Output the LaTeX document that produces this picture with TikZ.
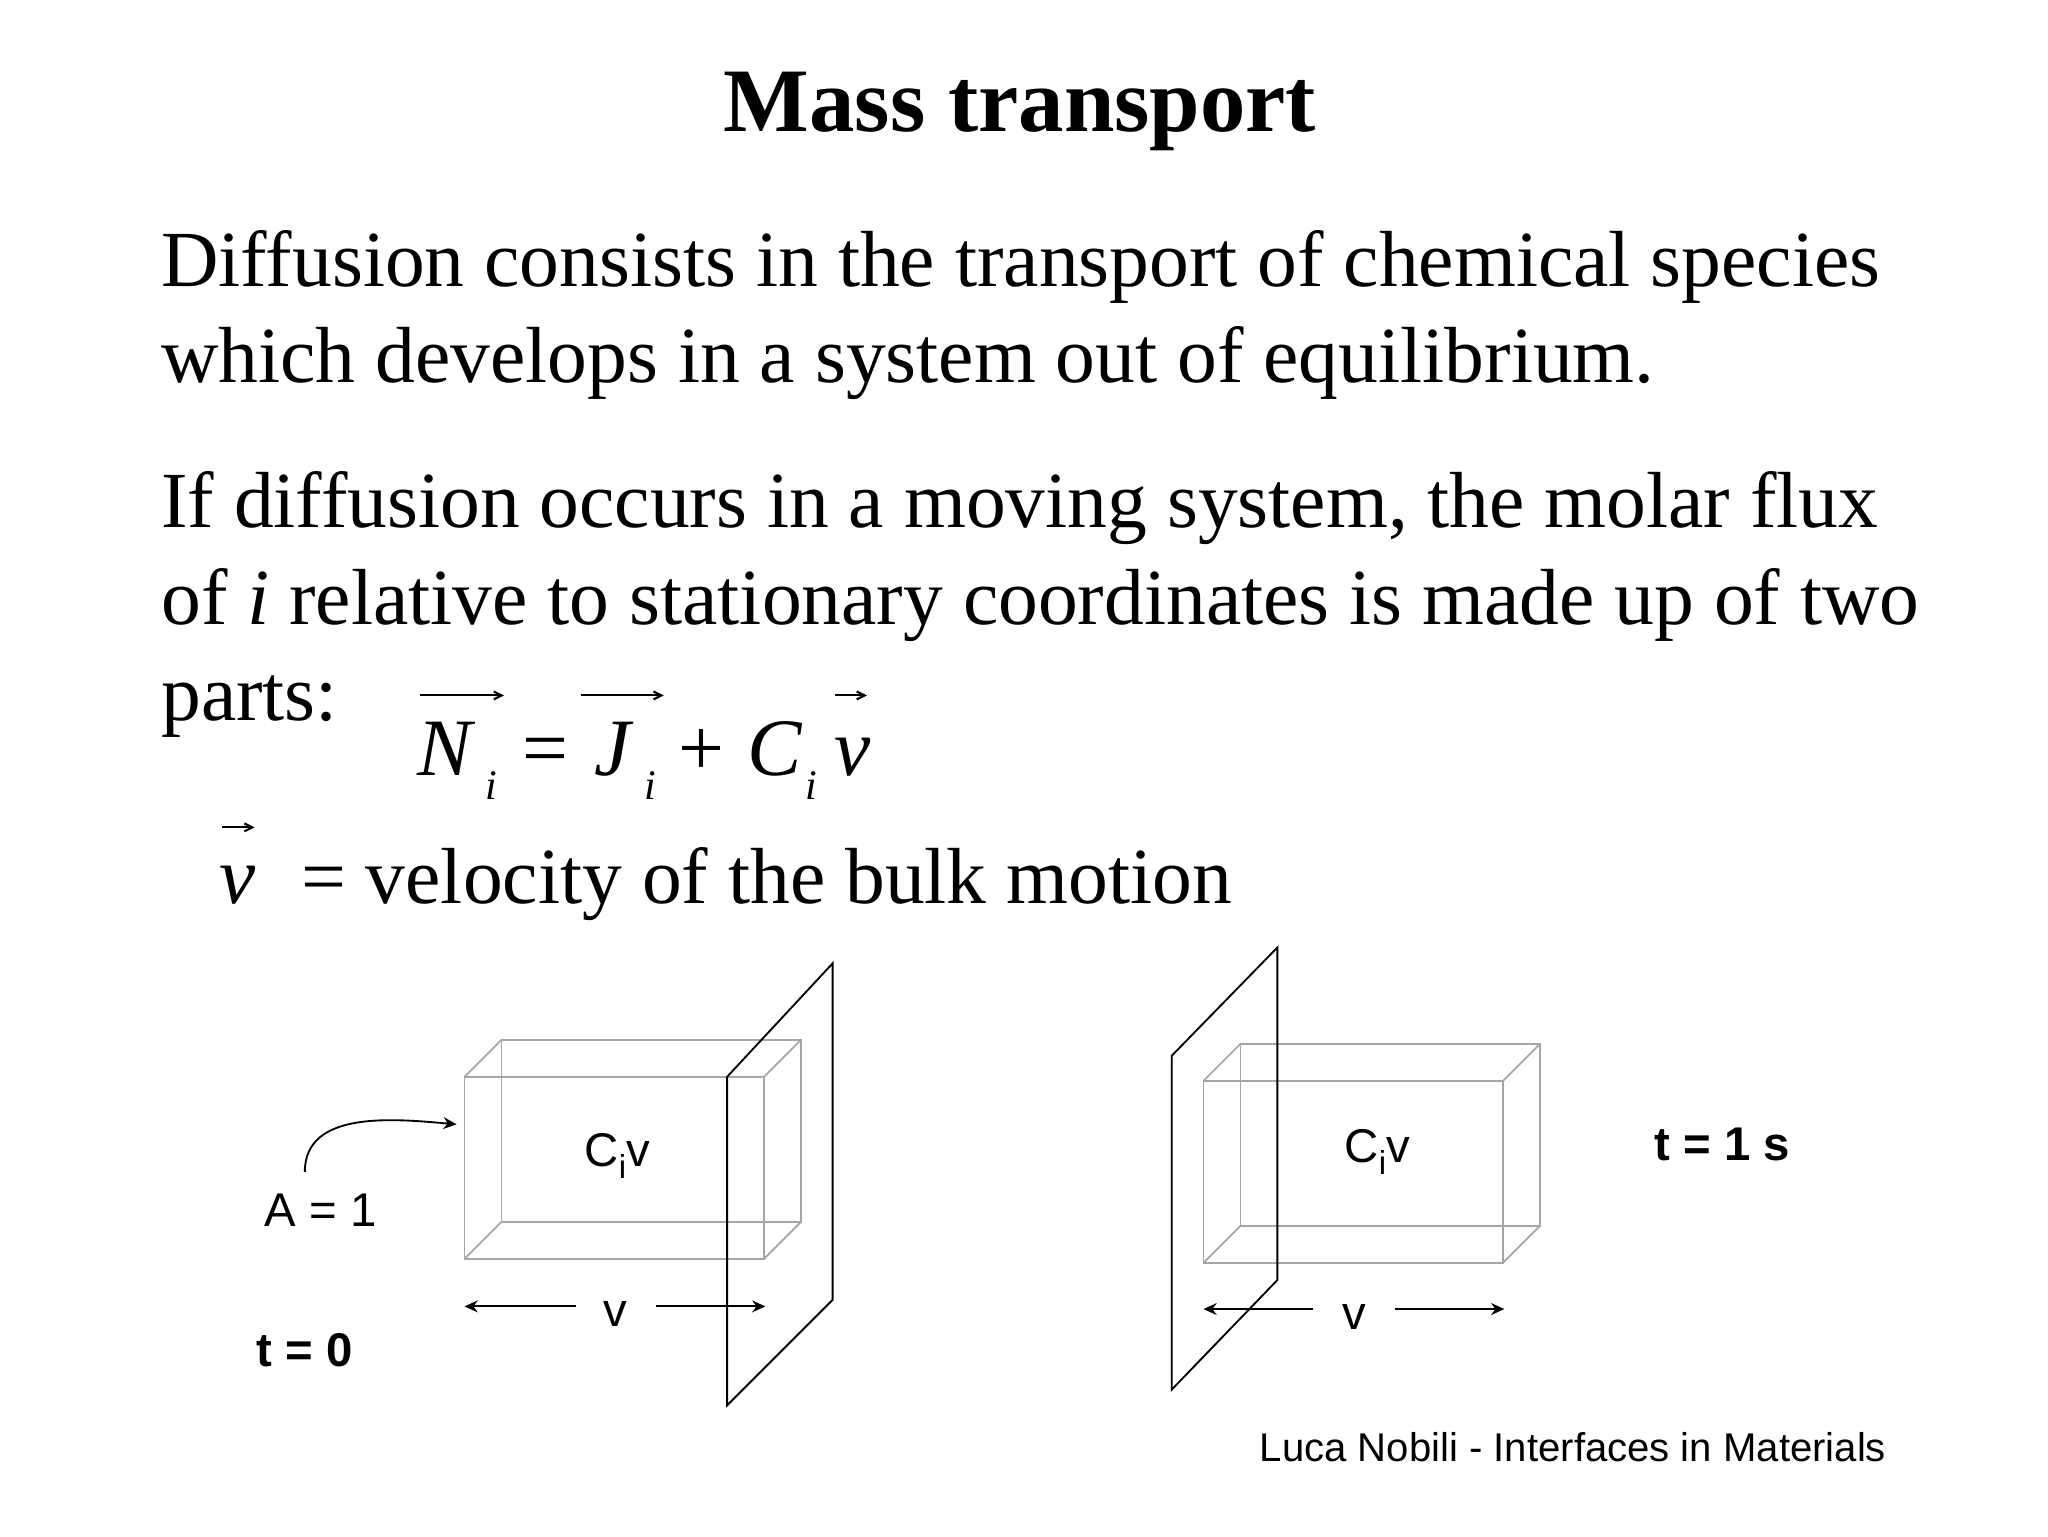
\documentclass[tikz,border=0pt]{standalone}
\usepackage{fontspec}
\setmainfont{Liberation Serif}
\setsansfont{Liberation Sans}
\usetikzlibrary{arrows.meta}
\begin{document}
\begin{tikzpicture}[x=1bp,y=-1bp,
  body/.style={anchor=base west,inner sep=0,font=\fontsize{60.5}{64}\selectfont},
  eqb/.style={anchor=base west,inner sep=0,font=\fontsize{62}{64}\selectfont},
  sub/.style={anchor=base west,inner sep=0,font=\fontsize{32}{34}\selectfont\itshape},
  vec/.style={-{Straight Barb[length=6bp,width=6bp]},line width=1.6bp},
  lab/.style={inner sep=0,font=\sffamily\fontsize{36}{40}\selectfont},
  boxl/.style={draw=black!35,line width=1.3bp},
  plane/.style={draw=black,line width=1.4bp},
  arr/.style={-{Stealth[length=10bp,width=9bp]},line width=1.6bp}]
\useasboundingbox (0,0) rectangle (1552,1164);
\node[anchor=base,inner sep=0,font=\bfseries\fontsize{69}{70}\selectfont] (title) at (773,100) {Mass transport};
\node[body] (l1) at (122,217) {Diffusion consists in the transport of chemical species};
\node[body] (l2) at (122,290) {which develops in a system out of equilibrium.};
\node[body] (l3) at (122,400) {If diffusion occurs in a moving system, the molar flux};
\node[body] (l4) at (122,473) {of \textit{i} relative to stationary coordinates is made up of two};
\node[body] (l5) at (122,546) {parts:};
% equation
\node[eqb] (eN) at (316,588) {\textit{N}};
\node[sub] (eNi) at (368,606) {i};
\node[eqb] (eeq) at (396,588) {=};
\node[eqb] (eJ) at (450,588) {\textit{J}};
\node[sub] (eJi) at (488,606) {i};
\node[eqb] (eplus) at (514,588) {+};
\node[eqb] (eC) at (566,588) {\textit{C}};
\node[sub] (eCi) at (610,606) {i};
\node[eqb] (ev) at (632,588) {\textit{v}};
\coordinate (aN1) at (318,527); \coordinate (aN2) at (382,527);
\coordinate (aJ1) at (440,527); \coordinate (aJ2) at (503,527);
\coordinate (av1) at (633,527); \coordinate (av2) at (657,527);
\draw[vec] (aN1) -- (aN2);
\draw[vec] (aJ1) -- (aJ2);
\draw[vec] (av1) -- (av2);
\node[eqb] (vv) at (166,685) {\textit{v}};
\coordinate (aw1) at (168,627); \coordinate (aw2) at (193,627);
\draw[vec] (aw1) -- (aw2);
\node[body] (vdef) at (228,685) {= velocity of the bulk motion};
% left box
\draw[boxl] (380,788) rectangle (607,926);
\draw[boxl] (352,816) -- (380,788) (579,816) -- (607,788) (352,954) -- (380,926) (579,954) -- (607,926);
\draw[boxl] (352,816) rectangle (579,954);
\draw[plane] (551,816) -- (631,730) -- (631,985) -- (551,1065) -- cycle;
\node[lab] (c1) at (468,876) {C\textsubscript{i}v};
\node[lab] (a1) at (243,917) {A = 1};
\coordinate (a1s) at (231,888);
\coordinate (a1e) at (346,852);
\draw[arr,line width=1.4bp] (a1s) to[out=90,in=175] (a1e);
\node[lab] (v1) at (466,996) {v};
\coordinate (v1l) at (352,990); \coordinate (v1r) at (580,990);
\draw[arr] (v1.west) ++(-20,-6) coordinate (v1a) -- (v1l);
\draw[arr] (v1.east) ++(22,-6) coordinate (v1b) -- (v1r);
\node[lab,font=\sffamily\bfseries\fontsize{36}{40}\selectfont] (t0) at (231,1023) {t = 0};
% right box
\draw[boxl] (940,791) rectangle (1167,929);
\draw[boxl] (912,819) -- (940,791) (1139,819) -- (1167,791) (912,957) -- (940,929) (1139,957) -- (1167,929);
\draw[boxl] (912,819) rectangle (1139,957);
\draw[plane] (888,800) -- (968,718) -- (968,970) -- (888,1053) -- cycle;
\node[lab] (c2) at (1044,873) {C\textsubscript{i}v};
\node[lab] (v2) at (1026,998) {v};
\coordinate (v2l) at (912,992); \coordinate (v2r) at (1140,992);
\draw[arr] (v2.west) ++(-22,-6) -- (v2l);
\draw[arr] (v2.east) ++(22,-6) -- (v2r);
\node[lab,font=\sffamily\bfseries\fontsize{36}{40}\selectfont] (t1) at (1305,867) {t = 1 s};
\node[lab,font=\sffamily\fontsize{30.5}{32}\selectfont] (foot) at (1192,1097) {Luca Nobili - Interfaces in Materials};
\end{tikzpicture}
\end{document}
